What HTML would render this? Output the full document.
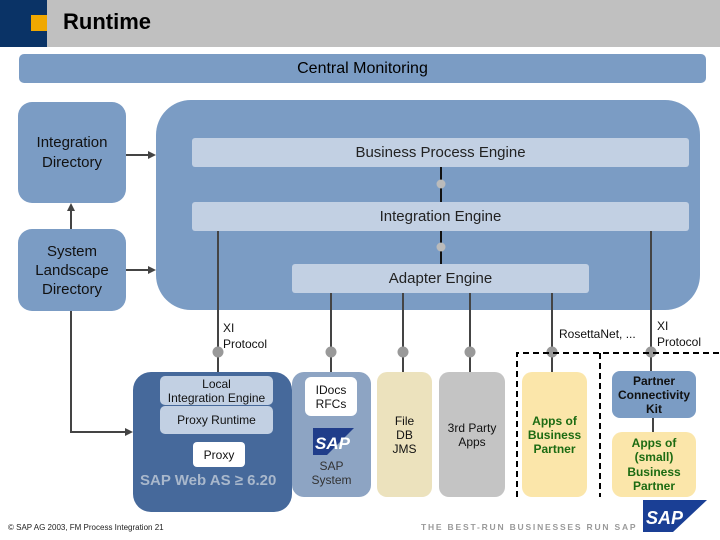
<!DOCTYPE html>
<html><head><meta charset="utf-8"><style>
*{margin:0;padding:0;box-sizing:border-box}
body{width:720px;height:540px;position:relative;background:#fff;font-family:"Liberation Sans",Arial,sans-serif;overflow:hidden}
.a{position:absolute}
.c{display:flex;align-items:center;justify-content:center;text-align:center}
.m{background:#7b9cc4}
.l{background:#c2d0e3}
</style></head><body>
<div class="a" style="left:0;top:0;width:720px;height:47px;background:#c0c0c0"></div>
<div class="a" style="left:0;top:0;width:47px;height:47px;background:#0a3366"></div>
<div class="a" style="left:31px;top:15px;width:16px;height:16px;background:#f0a800"></div>
<div class="a" style="left:63px;top:9px;font-size:22px;font-weight:bold;color:#000">Runtime</div>

<div class="a c m" style="left:19px;top:54px;width:687px;height:29px;border-radius:5px;font-size:16px;color:#000">Central Monitoring</div>

<div class="a c m" style="left:18px;top:102px;width:108px;height:101px;border-radius:14px;font-size:15px;line-height:20px;color:#111">Integration<br>Directory</div>
<div class="a c m" style="left:18px;top:229px;width:108px;height:82px;border-radius:14px;font-size:15px;line-height:19px;color:#111">System<br>Landscape<br>Directory</div>

<div class="a m" style="left:156px;top:100px;width:544px;height:210px;border-radius:35px"></div>
<div class="a c l" style="left:192px;top:138px;width:497px;height:29px;border-radius:3px;font-size:15px;color:#222">Business Process Engine</div>
<div class="a c l" style="left:192px;top:202px;width:497px;height:29px;border-radius:3px;font-size:15px;color:#222">Integration Engine</div>
<div class="a c l" style="left:292px;top:264px;width:297px;height:29px;border-radius:3px;font-size:15px;color:#222">Adapter Engine</div>

<svg class="a" style="left:0;top:0" width="720" height="540">
<g stroke="#444" stroke-width="2" fill="none">
<line x1="441" y1="167" x2="441" y2="202" stroke="#111"/>
<line x1="441" y1="231" x2="441" y2="264" stroke="#111"/>
<line x1="126" y1="155" x2="150" y2="155"/>
<line x1="126" y1="270" x2="150" y2="270"/>
<line x1="71" y1="229" x2="71" y2="210"/>
<polyline points="71,311 71,432 126,432"/>
<line x1="218" y1="231" x2="218" y2="378"/>
<line x1="331" y1="293" x2="331" y2="372"/>
<line x1="403" y1="293" x2="403" y2="372"/>
<line x1="470" y1="293" x2="470" y2="372"/>
<line x1="552" y1="293" x2="552" y2="372"/>
<line x1="651" y1="231" x2="651" y2="372"/>
<line x1="653" y1="418" x2="653" y2="432"/>
<line x1="219" y1="433" x2="219" y2="442"/>
</g>
<g fill="#444">
<polygon points="156,155 148,151 148,159"/>
<polygon points="156,270 148,266 148,274"/>
<polygon points="71,203 67,211 75,211"/>
<polygon points="133,432 125,428 125,436"/>
</g>
<g fill="#bbb">
<circle cx="441" cy="184" r="4.5"/><circle cx="441" cy="247" r="4.5"/>
</g>
<g fill="#999">
<circle cx="218" cy="352" r="5.5"/><circle cx="331" cy="352" r="5.5"/><circle cx="403" cy="352" r="5.5"/>
<circle cx="470" cy="352" r="5.5"/><circle cx="552" cy="352" r="5.5"/><circle cx="651" cy="352" r="5.5"/>
</g>
<g stroke="#000" stroke-width="2" stroke-dasharray="6,4" fill="none">
<polyline points="517,497 517,353 720,353"/>
<line x1="600" y1="353" x2="600" y2="497"/>
</g>
</svg>

<div class="a" style="left:223px;top:320px;font-size:12px;line-height:16px;color:#111">XI<br>Protocol</div>
<div class="a" style="left:559px;top:327px;font-size:12px;color:#111">RosettaNet, ...</div>
<div class="a" style="left:657px;top:318px;font-size:12px;line-height:16px;color:#111">XI<br>Protocol</div>

<div class="a" style="left:133px;top:372px;width:159px;height:140px;border-radius:18px;background:#46699b"></div>
<div class="a c l" style="left:160px;top:376px;width:113px;height:29px;border-radius:5px;font-size:12px;line-height:14px;color:#111">Local<br>Integration Engine</div>
<div class="a c l" style="left:160px;top:406px;width:113px;height:28px;border-radius:5px;font-size:12px;color:#111">Proxy Runtime</div>
<div class="a c" style="left:193px;top:442px;width:52px;height:25px;background:#fff;border-radius:4px;font-size:12px;color:#111">Proxy</div>
<div class="a" style="left:140px;top:472px;font-size:15px;font-weight:bold;color:#a9b8cc;white-space:nowrap">SAP Web AS ≥ 6.20</div>

<div class="a" style="left:292px;top:372px;width:79px;height:125px;border-radius:12px;background:#8da4c3"></div>
<div class="a c" style="left:305px;top:377px;width:52px;height:39px;background:#fff;border-radius:6px;font-size:12px;line-height:14px;color:#111">IDocs<br>RFCs</div>
<svg class="a" style="left:313px;top:428px" width="41" height="27"><polygon points="0,0 41,0 14,27 0,27" fill="#203d8a"/><text x="2" y="21" font-family="Liberation Sans" font-weight="bold" font-size="17" fill="#fff" font-style="italic">SAP</text></svg>
<div class="a c" style="left:292px;top:459px;width:79px;font-size:12px;line-height:14px;color:#333">SAP<br>System</div>

<div class="a c" style="left:377px;top:372px;width:55px;height:125px;border-radius:10px;background:#ece2bd;font-size:12px;line-height:14px;color:#111">File<br>DB<br>JMS</div>
<div class="a c" style="left:439px;top:372px;width:66px;height:125px;border-radius:10px;background:#c4c4c4;font-size:12px;line-height:14px;color:#111">3rd Party<br>Apps</div>
<div class="a c" style="left:522px;top:372px;width:65px;height:125px;border-radius:10px;background:#fbe6aa;font-size:12px;line-height:14px;color:#1c6b12;font-weight:bold">Apps of<br>Business<br>Partner</div>
<div class="a c m" style="left:612px;top:371px;width:84px;height:47px;border-radius:8px;font-size:12px;line-height:14px;color:#111;font-weight:bold">Partner<br>Connectivity<br>Kit</div>
<div class="a c" style="left:612px;top:432px;width:84px;height:65px;border-radius:10px;background:#fbe6aa;font-size:12px;line-height:14.5px;color:#1c6b12;font-weight:bold">Apps of<br>(small)<br>Business<br>Partner</div>

<div class="a" style="left:8px;top:523px;font-size:8px;color:#222">© SAP AG 2003, FM Process Integration 21</div>
<div class="a" style="left:421px;top:522px;font-size:8.5px;font-weight:bold;color:#9a9a9a;letter-spacing:1.8px;white-space:nowrap">THE BEST-RUN BUSINESSES RUN SAP</div>
<svg class="a" style="left:643px;top:500px" width="64" height="32"><polygon points="0,0 64,0 30,32 0,32" fill="#1a3f95"/><text x="3" y="24" font-family="Liberation Sans" font-weight="bold" font-size="18" fill="#fff" font-style="italic">SAP</text></svg>
</body></html>
